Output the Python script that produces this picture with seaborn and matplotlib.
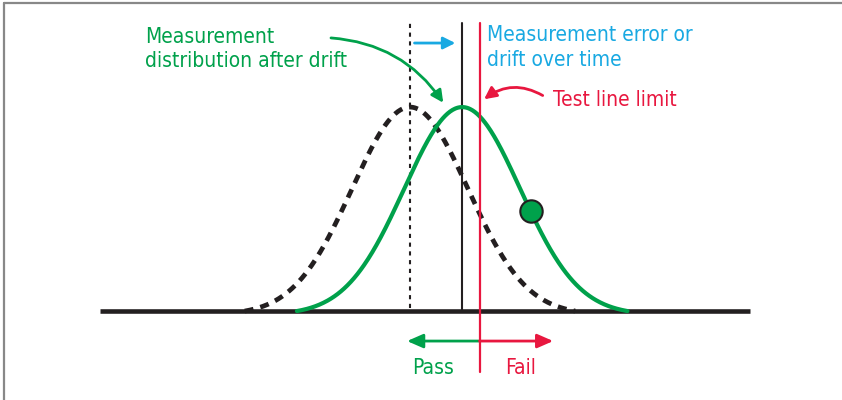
import numpy as np
import pandas as pd
import matplotlib
matplotlib.use('Agg')
import matplotlib.pyplot as plt
import seaborn as sns

# values in units of one sigma
nominal_mean = 0.0
drifted_mean = 0.9
sigma = 1.0
test_limit = 1.2
tail_cut = 2.85         # curves drawn to +/- this many sigma
marker_x = 2.08         # green dot on the drifted curve

GREEN = '#00a14b'
RED = '#e8173f'
BLUE = '#19a9e2'
BLACK = '#231f20'


def density(x, mu):
    floor = np.exp(-0.5 * tail_cut ** 2)
    g = np.exp(-0.5 * ((x - mu) / sigma) ** 2)
    return (g - floor) / (1 - floor)


def bell(mu):
    x = np.linspace(mu - tail_cut * sigma, mu + tail_cut * sigma, 400)
    return pd.DataFrame({'x': x, 'y': density(x, mu)})


sns.set_theme(style='white')
plt.rcParams['font.family'] = ['DejaVu Sans']
plt.rcParams['font.stretch'] = 'condensed'
TXT = dict(fontsize=15, fontstretch='condensed')

fig = plt.figure(figsize=(8.42, 4.0), dpi=100)
ax = fig.add_axes([0, 0, 1, 1])
ax.set_xlim(-7.07, 7.45)
ax.set_ylim(-0.436, 1.525)
ax.axis('off')

# base line
ax.plot([-5.34, 5.86], [0, 0], color=BLACK, lw=3.3, solid_capstyle='butt', zorder=3)

# distributions
before = bell(nominal_mean)
after = bell(drifted_mean)
sns.lineplot(data=before, x='x', y='y', ax=ax, color=BLACK, lw=3.4,
             linestyle=(0, (1.9, 1.5)), zorder=2)
sns.lineplot(data=after, x='x', y='y', ax=ax, color=GREEN, lw=3.0, zorder=4)

ax.scatter([marker_x], [density(marker_x, drifted_mean)], s=260, color=GREEN,
           edgecolor=BLACK, linewidth=1.5, zorder=6)

# vertical reference lines
ax.plot([nominal_mean, nominal_mean], [0.015, 1.412], color=BLACK, lw=1.5,
        linestyle=(0, (2, 2.2)), zorder=3)
ax.plot([drifted_mean, drifted_mean], [0, 1.412], color=BLACK, lw=1.5, zorder=3)
ax.plot([test_limit, test_limit], [-0.3, 1.412], color=RED, lw=1.6, zorder=5)

# drift arrow
ax.annotate('', xy=(drifted_mean - 0.07, 1.314), xytext=(nominal_mean + 0.03, 1.314),
            arrowprops=dict(arrowstyle='-|>,head_length=0.6,head_width=0.3',
                            color=BLUE, lw=2))
ax.text(1.33, 1.40, 'Measurement error or\ndrift over time', color=BLUE,
        va='top', ha='left', linespacing=1.27, **TXT)

# test line label
ax.text(2.47, 1.035, 'Test line limit', color=RED, va='center', ha='left', **TXT)
ax.annotate('', xy=(test_limit + 0.04, 1.03), xytext=(2.33, 1.05),
            arrowprops=dict(arrowstyle='-|>,head_length=0.6,head_width=0.3',
                            color=RED, lw=2, connectionstyle='arc3,rad=0.35'))

# drifted distribution label
ax.text(-4.57, 1.395, 'Measurement\ndistribution after drift', color=GREEN,
        va='top', ha='left', linespacing=1.27, **TXT)
ax.annotate('', xy=(0.6, 1.01), xytext=(-1.41, 1.34),
            arrowprops=dict(arrowstyle='-|>,head_length=0.6,head_width=0.3',
                            color=GREEN, lw=2, connectionstyle='arc3,rad=-0.25'))

# pass / fail
ax.annotate('', xy=(-0.05, -0.147), xytext=(test_limit, -0.147),
            arrowprops=dict(arrowstyle='-|>,head_length=0.8,head_width=0.35',
                            color=GREEN, lw=2, shrinkA=0, shrinkB=0))
ax.annotate('', xy=(2.47, -0.147), xytext=(test_limit, -0.147),
            arrowprops=dict(arrowstyle='-|>,head_length=0.8,head_width=0.35',
                            color=RED, lw=2, shrinkA=0, shrinkB=0))
ax.text(0.4, -0.28, 'Pass', color=GREEN, ha='center', va='center', **TXT)
ax.text(1.9, -0.28, 'Fail', color=RED, ha='center', va='center', **TXT)

# frame (top and left edges)
fig.add_artist(plt.Line2D([4 / 842, 1], [1 - 3 / 400, 1 - 3 / 400],
                          color='#888888', lw=1.6, transform=fig.transFigure))
fig.add_artist(plt.Line2D([4 / 842, 4 / 842], [0, 1 - 3 / 400],
                          color='#888888', lw=1.6, transform=fig.transFigure))

fig.savefig('out.png', dpi=100, facecolor='white')
